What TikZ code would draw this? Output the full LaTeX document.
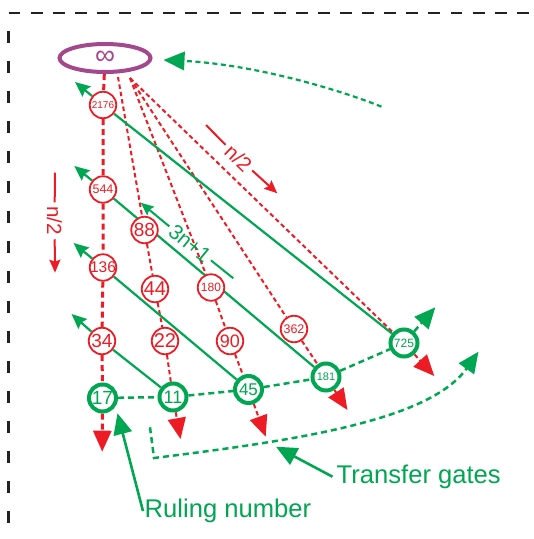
\documentclass[tikz,border=0pt]{standalone}
\usepackage{fontspec}
\setmainfont{Liberation Sans}
\usetikzlibrary{arrows.meta,shapes.geometric}
\definecolor{cred}{HTML}{ED1C24}
\definecolor{cgreen}{HTML}{00A651}
\definecolor{cpurple}{HTML}{A3488C}
\definecolor{cframe}{HTML}{222222}
\pgfdeclarelayer{back}
\pgfsetlayers{back,main}
\newcommand\numtxt[1]{\makebox[0pt]{#1}}
\begin{document}
\begin{tikzpicture}[x=1pt,y=-1pt,
  fs/.style={font=\fontsize{#1}{#1}\selectfont},
  rnode/.style={circle,draw=cred,line width=1.8pt,fill=white,minimum size=26.5pt,inner sep=0pt,text=cred},
  gnode/.style={circle,draw=cgreen,line width=4pt,fill=white,minimum size=27pt,inner sep=0pt,text=cgreen},
  rcol/.style={draw=cred,line width=2pt,dash pattern=on 4.5pt off 3pt},
  rcolthick/.style={draw=cred,line width=3pt,dash pattern=on 6pt off 4pt},
  rtip/.style={-{Triangle[length=21pt,width=18pt]}},
  gline/.style={draw=cgreen,line width=2.2pt},
  gdash/.style={draw=cgreen,line width=2.5pt,dash pattern=on 6pt off 4pt},
  gtip/.style={-{Stealth[length=15pt,width=13pt,inset=2pt]}},
  gbig/.style={-{Triangle[length=21pt,width=18.5pt]}},
  note/.style={line width=2pt},
  notetip/.style={-{Stealth[length=13pt,width=11pt,inset=2pt]}},
  notetext/.style={fs=20.5,inner sep=4pt},
]
\useasboundingbox (0,0) rectangle (534,539);

% open dashed frame
\draw[cframe,line width=2.2pt,dash pattern=on 11.9pt off 10.2pt] (8.5,13) -- (534,13);
\draw[cframe,line width=2.2pt,dash pattern=on 11.7pt off 18.3pt,dash phase=12.2pt] (8.5,13) -- (8.5,539);

% infinity
\node[ellipse,draw=cpurple,line width=4pt,fill=white,minimum width=91pt,minimum height=28pt,
      inner sep=0pt,text=cpurple,fs=28] (inf) at (105,58) {\numtxt{∞}};

% even numbers
\node[rnode,fs=10]   (n2176) at (103,105)   {\numtxt{2176}};
\node[rnode,fs=12.5] (n544)  at (103,189.5) {\numtxt{544}};
\node[rnode,fs=15.5] (n136)  at (103,267.5) {\numtxt{136}};
\node[rnode,fs=19]   (n34)   at (102,341)   {\numtxt{34}};
\node[rnode,fs=19]   (n88)   at (144.5,230) {\numtxt{88}};
\node[rnode,fs=20]   (n44)   at (155,289)   {\numtxt{44}};
\node[rnode,fs=20]   (n22)   at (165,341)   {\numtxt{22}};
\node[rnode,fs=12]   (n180)  at (211,287.5) {\numtxt{180}};
\node[rnode,fs=18]   (n90)   at (230,341)   {\numtxt{90}};
\node[rnode,fs=12.5] (n362)  at (294,329)   {\numtxt{362}};

% odd numbers
\node[gnode,fs=19] (n17)  at (102.5,398) {\numtxt{17}};
\node[gnode,fs=18] (n11)  at (173,397)   {\numtxt{11}};
\node[gnode,fs=17] (n45)  at (248.5,389.5) {\numtxt{45}};
\node[gnode,fs=11] (n181) at (326,377)   {\numtxt{181}};
\node[gnode,fs=12] (n725) at (404,343)   {\numtxt{725}};

% free ends
\coordinate (hubA) at (118,77);
\coordinate (hubB) at (130,78);
\coordinate (t17)  at (102.2,451.7);
\coordinate (t11)  at (180.5,439);
\coordinate (t45)  at (265.7,436.7);
\coordinate (t181) at (347.4,410);
\coordinate (t725r) at (434.3,376);
\coordinate (t725g) at (435.3,307.3);
\coordinate (u2176) at (75,82);
\coordinate (u544)  at (74.3,166);
\coordinate (u136)  at (73.5,243);
\coordinate (u34)   at (71.5,314);
\coordinate (wrapA) at (150,427.3);
\coordinate (wrapB) at (154,458);
\coordinate (wrapC) at (478.5,351.7);
\coordinate (backS) at (381.5,106.7);
\coordinate (backT) at (163.5,60);

% labels
\node[anchor=base west,inner sep=0pt,fs=25.6,text=cgreen] (tg) at (336.5,483.3) {Transfer gates};
\node[anchor=base west,inner sep=0pt,fs=25.6,text=cgreen] (rn) at (144.5,517.7) {Ruling number};
\coordinate (tgT) at (276,446.7);
\coordinate (rnT) at (117.5,413.3);

% operation notes
\node[notetext,rotate=-43.8,text=cred] (ntop) at (238.5,158) {n/2};
\coordinate (ntopA) at (206,125);
\coordinate (ntopB) at (277.3,193.3);
\node[notetext,rotate=-90,text=cred] (nleft) at (54.5,220.8) {n/2};
\coordinate (nleftA) at (55,172.7);
\coordinate (nleftB) at (55,272.7);
\node[notetext,fs=21,rotate=-39.2,text=cgreen,inner sep=3pt] (nmul) at (190,243.5) {3n+1};
\coordinate (nmulA) at (140.7,202.7);
\coordinate (nmulB) at (233.3,278.3);

\draw[note,cred] (ntopA) -- (ntop);
\draw[note,cred,notetip] (ntop) -- (ntopB);
\draw[note,cred] (nleftA) -- (nleft);
\draw[note,cred,notetip] (nleft) -- (nleftB);
\draw[note,cgreen,notetip] (nmul) -- (nmulA);
\draw[note,cgreen] (nmul) -- (nmulB);

\draw[cgreen,line width=2.6pt,gbig] ([xshift=-4pt]tg.west) -- (tgT);
\draw[cgreen,line width=2.6pt,gbig] ([xshift=-1.5pt]rn.west) -- (rnT);

\begin{pgfonlayer}{back}
  % halving chains
  \draw[rcolthick] (inf) -- (n2176) -- (n544) -- (n136) -- (n34) -- (n17);
  \draw[rcolthick,rtip] (n17) -- (t17);
  \draw[rcol] (hubA) -- (n88) -- (n44) -- (n22) -- (n11);
  \draw[rcol,rtip] (n11) -- (t11);
  \draw[rcol] (hubB) -- (n180) -- (n90) -- (n45);
  \draw[rcol,rtip] (n45) -- (t45);
  \draw[rcol] (hubB) -- (n362) -- (n181);
  \draw[rcol,rtip] (n181) -- (t181);
  \draw[rcol] (hubB) -- (n725);
  \draw[rcol,rtip] (n725) -- (t725r);
  % 3n+1 steps
  \draw[gline] (n725) -- (n2176);
  \draw[gline,gtip] (n2176) -- (u2176);
  \draw[gline] (n181) -- (n544);
  \draw[gline,gtip] (n544) -- (u544);
  \draw[gline] (n45) -- (n136);
  \draw[gline,gtip] (n136) -- (u136);
  \draw[gline] (n11) -- (n34);
  \draw[gline,gtip] (n34) -- (u34);
  % transfer gates
  \draw[gdash] (n17) -- (n11) -- (n45) -- (n181) -- (n725);
  \draw[gdash,gbig] (n725) -- (t725g);
  \draw[gdash,gbig] (wrapA) -- (wrapB) .. controls (300,440) and (430,420) .. (wrapC);
  \draw[gdash,line width=2.2pt,dash pattern=on 5pt off 3.5pt,gbig] (backS) .. controls (335,88) and (250,64) .. (backT);
\end{pgfonlayer}
\end{tikzpicture}
\end{document}
